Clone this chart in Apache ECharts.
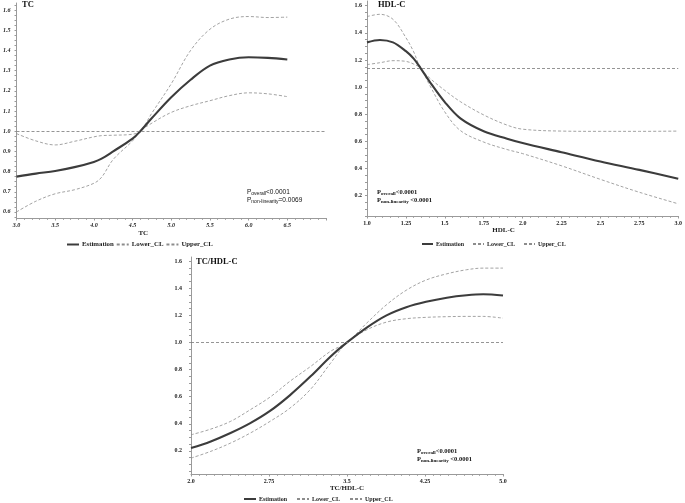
<!DOCTYPE html>
<html><head><meta charset="utf-8">
<script src="https://cdn.jsdelivr.net/npm/echarts@6/dist/echarts.min.js"></script>
<style>html,body{margin:0;padding:0;background:#fff}#c{width:685px;height:503px}</style>
</head><body><div id="c"></div>
<script>
// ---- Panel 1: TC ----
const tcX     = [3.0, 3.25, 3.5, 3.75, 4.0, 4.1, 4.25, 4.5, 4.6, 4.75, 5.0, 5.25, 5.5, 5.75, 6.0, 6.25, 6.5];
const tcEst   = [0.775, 0.79, 0.803, 0.822, 0.848, 0.864, 0.90, 0.963, 1.0, 1.065, 1.168, 1.255, 1.325, 1.355, 1.366, 1.363, 1.355];
const tcLower = [0.60, 0.653, 0.69, 0.71, 0.742, 0.772, 0.86, 0.952, 1.0, 1.04, 1.093, 1.126, 1.151, 1.176, 1.19, 1.185, 1.171];
const tcUpper = [0.988, 0.952, 0.932, 0.95, 0.972, 0.978, 0.98, 0.985, 1.0, 1.09, 1.235, 1.40, 1.505, 1.555, 1.568, 1.563, 1.565];
const tcRef = 1.0;
const tcYTicks = [0.6, 0.7, 0.8, 0.9, 1.0, 1.1, 1.2, 1.3, 1.4, 1.5, 1.6];

// ---- Panel 2: HDL-C ----
const hdlX     = [1.0, 1.083, 1.167, 1.25, 1.3, 1.345, 1.4, 1.5, 1.6, 1.75, 1.9, 2.0, 2.25, 2.5, 2.75, 3.0];
const hdlEst   = [1.33, 1.348, 1.33, 1.265, 1.21, 1.139, 1.045, 0.89, 0.77, 0.675, 0.62, 0.588, 0.52, 0.452, 0.39, 0.324];
const hdlLower = [1.166, 1.18, 1.195, 1.19, 1.17, 1.139, 1.02, 0.817, 0.68, 0.595, 0.54, 0.51, 0.42, 0.32, 0.225, 0.14];
const hdlUpper = [1.52, 1.537, 1.50, 1.365, 1.26, 1.139, 1.07, 0.976, 0.893, 0.795, 0.72, 0.69, 0.676, 0.674, 0.674, 0.676];
const hdlRef = 1.14;
const hdlYTicks = [0.2, 0.4, 0.6, 0.8, 1.0, 1.2, 1.4, 1.6];

// ---- Panel 3: TC/HDL-C ----
const thX     = [2.0, 2.19, 2.38, 2.57, 2.76, 2.95, 3.15, 3.34, 3.5, 3.69, 3.88, 4.07, 4.26, 4.46, 4.65, 4.81, 5.0];
const thEst   = [0.221, 0.27, 0.332, 0.405, 0.495, 0.61, 0.75, 0.895, 1.0, 1.11, 1.2, 1.26, 1.30, 1.33, 1.348, 1.355, 1.346];
const thLower = [0.147, 0.197, 0.258, 0.332, 0.418, 0.515, 0.655, 0.845, 1.0, 1.093, 1.15, 1.175, 1.185, 1.19, 1.192, 1.192, 1.179];
const thUpper = [0.319, 0.361, 0.418, 0.504, 0.597, 0.713, 0.823, 0.934, 1.0, 1.143, 1.278, 1.385, 1.46, 1.506, 1.536, 1.548, 1.548];
const thRef = 1.0;
const thYTicks = [0.2, 0.4, 0.6, 0.8, 1.0, 1.2, 1.4, 1.6];

const seriesNames = ['Estimation', 'Lower_CL', 'Upper_CL'];

const SERIF = "'Liberation Serif','Times New Roman',serif";
const SANS = "'Liberation Sans',Arial,sans-serif";
const estStyle = {color: '#3c3c3c', width: 2.1};
const clStyle = {color: '#8c8c8c', width: 0.8, type: [3, 2]};
const refStyle = {color: '#7a7a7a', width: 0.8, type: [3, 2]};

function fmt(v) {
  return Math.abs(v * 2 - Math.round(v * 2)) < 1e-6 ? v.toFixed(1) : v.toFixed(2);
}
function zip(xs, ys) { return xs.map((x, i) => [x, ys[i]]); }

function panelSeries(idx, xs, est, lo, up, ref) {
  return [
    {type: 'line', name: seriesNames[0], xAxisIndex: idx, yAxisIndex: idx, data: zip(xs, est),
     smooth: 0.35, symbol: 'none', lineStyle: estStyle, itemStyle: {color: estStyle.color}, z: 4,
     markLine: {silent: true, symbol: ['none', 'none'], label: {show: false}, lineStyle: refStyle,
                emphasis: {disabled: true}, data: [{yAxis: ref}]}},
    {type: 'line', name: seriesNames[1], xAxisIndex: idx, yAxisIndex: idx, data: zip(xs, lo),
     smooth: 0.35, symbol: 'none', lineStyle: clStyle, itemStyle: {color: clStyle.color}, z: 3},
    {type: 'line', name: seriesNames[2], xAxisIndex: idx, yAxisIndex: idx, data: zip(xs, up),
     smooth: 0.35, symbol: 'none', lineStyle: clStyle, itemStyle: {color: clStyle.color}, z: 3}
  ];
}

const axisLineStyle = {lineStyle: {color: '#9a9a9a', width: 1}};

function xAxisCfg(idx, min, max, interval, minorSplit, name, nameGap, namePad, italic) {
  return {
    type: 'value', gridIndex: idx, min: min, max: max, interval: interval,
    axisLine: {show: true, onZero: false, ...axisLineStyle},
    axisTick: {show: true, length: 2.5, lineStyle: {color: '#9a9a9a'}},
    minorTick: {show: true, splitNumber: minorSplit, length: 1.8, lineStyle: {color: '#9a9a9a'}},
    splitLine: {show: false},
    axisLabel: {fontFamily: SERIF, fontWeight: 'bold', fontStyle: italic ? 'italic' : 'normal', fontSize: 6,
      color: '#222', margin: 4, showMaxLabel: idx !== 0, formatter: fmt},
    name: name, nameLocation: 'middle', nameGap: nameGap,
    nameTextStyle: {fontFamily: SERIF, fontWeight: 'bold', fontSize: 7, color: '#222', padding: namePad}
  };
}
function yAxisCfg(idx, min, max, ticks, minorStep, margin, italic) {
  const minor = [];
  for (let v = Math.ceil(min / minorStep) * minorStep; v <= max + 1e-9; v += minorStep) minor.push(+v.toFixed(4));
  return {
    type: 'value', gridIndex: idx, min: min, max: max,
    axisLine: {show: true, onZero: false, ...axisLineStyle},
    axisTick: {show: true, length: 2, customValues: minor, lineStyle: {color: '#9a9a9a'}},
    splitLine: {show: false},
    axisLabel: {fontFamily: SERIF, fontWeight: 'bold', fontStyle: italic ? 'italic' : 'normal', fontSize: 6,
      color: '#222', margin: margin, customValues: ticks, formatter: v => v.toFixed(1)}
  };
}

function pText(left, top, line2, family, bold, sizes) {
  return {
    text: '{p|P}{s|overall}{p|<0.0001}\n{p|P}{s|non-linearity}{p|' + line2 + '}',
    left: left, top: top, padding: 0,
    textStyle: {
      lineHeight: 8,
      rich: {
        p: {fontFamily: family, fontWeight: bold ? 'bold' : 'normal', fontSize: sizes[0], color: '#111', lineHeight: 8, verticalAlign: 'bottom'},
        s: {fontFamily: family, fontWeight: bold ? 'bold' : 'normal', fontSize: sizes[1], color: '#111', lineHeight: 8, verticalAlign: 'bottom'}
      }
    }
  };
}

const titleStyle = {fontFamily: SERIF, fontWeight: 'bold', fontSize: 8.5, color: '#111'};
function legendCfg(left, top, itemWidth, gap, fontSize) {
  return {
    left: left, top: top, itemWidth: itemWidth, itemHeight: 6, itemGap: gap, padding: 0,
    data: seriesNames, selectedMode: false,
    itemStyle: {opacity: 0, borderWidth: 0},
    textStyle: {fontFamily: SERIF, fontWeight: 'bold', fontSize: fontSize, color: '#222', padding: [0, 0, 0, -2]}
  };
}

const option = {
  animation: false,
  backgroundColor: '#fff',
  title: [
    {text: 'TC', left: 22, top: 0, padding: 0, textStyle: titleStyle},
    {text: 'HDL-C', left: 378, top: 0, padding: 0, textStyle: titleStyle},
    {text: 'TC/HDL-C', left: 196, top: 257, padding: 0, textStyle: titleStyle},
    pText(247, 188, '=0.0069', SANS, false, [6.5, 5]),
    pText(377, 188, ' <0.0001', SERIF, true, [6.5, 5]),
    pText(417, 447, ' <0.0001', SERIF, true, [6.5, 5])
  ],
  legend: [
    legendCfg(66, 241, 12, 2, 6.8),
    legendCfg(421, 241, 11, 8, 6),
    legendCfg(243, 496, 12, 9, 6)
  ],
  grid: [
    {left: 14, top: 3, width: 312, height: 215},
    {left: 367, top: 1, width: 313, height: 215},
    {left: 191, top: 257, width: 312, height: 217}
  ],
  xAxis: [
    xAxisCfg(0, 3.0, 7.0, 0.5, 5, 'TC', 12, [0, 56, 0, 0], true),
    xAxisCfg(1, 1.0, 3.0, 0.25, 5, 'HDL-C', 10, [0, 38, 0, 0], false),
    xAxisCfg(2, 2.0, 5.0, 0.75, 10, 'TC/HDL-C', 7, 0, false)
  ],
  yAxis: [
    yAxisCfg(0, 0.57, 1.635, tcYTicks, 0.025, 6, true),
    yAxisCfg(1, 0.05, 1.635, hdlYTicks, 0.05, 5, false),
    yAxisCfg(2, 0.03, 1.63, thYTicks, 0.05, 9, false)
  ],
  series: [
    ...panelSeries(0, tcX, tcEst, tcLower, tcUpper, tcRef),
    ...panelSeries(1, hdlX, hdlEst, hdlLower, hdlUpper, hdlRef),
    ...panelSeries(2, thX, thEst, thLower, thUpper, thRef)
  ]
};

const chart = echarts.init(document.getElementById('c'), null, {renderer: 'canvas'});
chart.setOption(option);
</script>
</body></html>
